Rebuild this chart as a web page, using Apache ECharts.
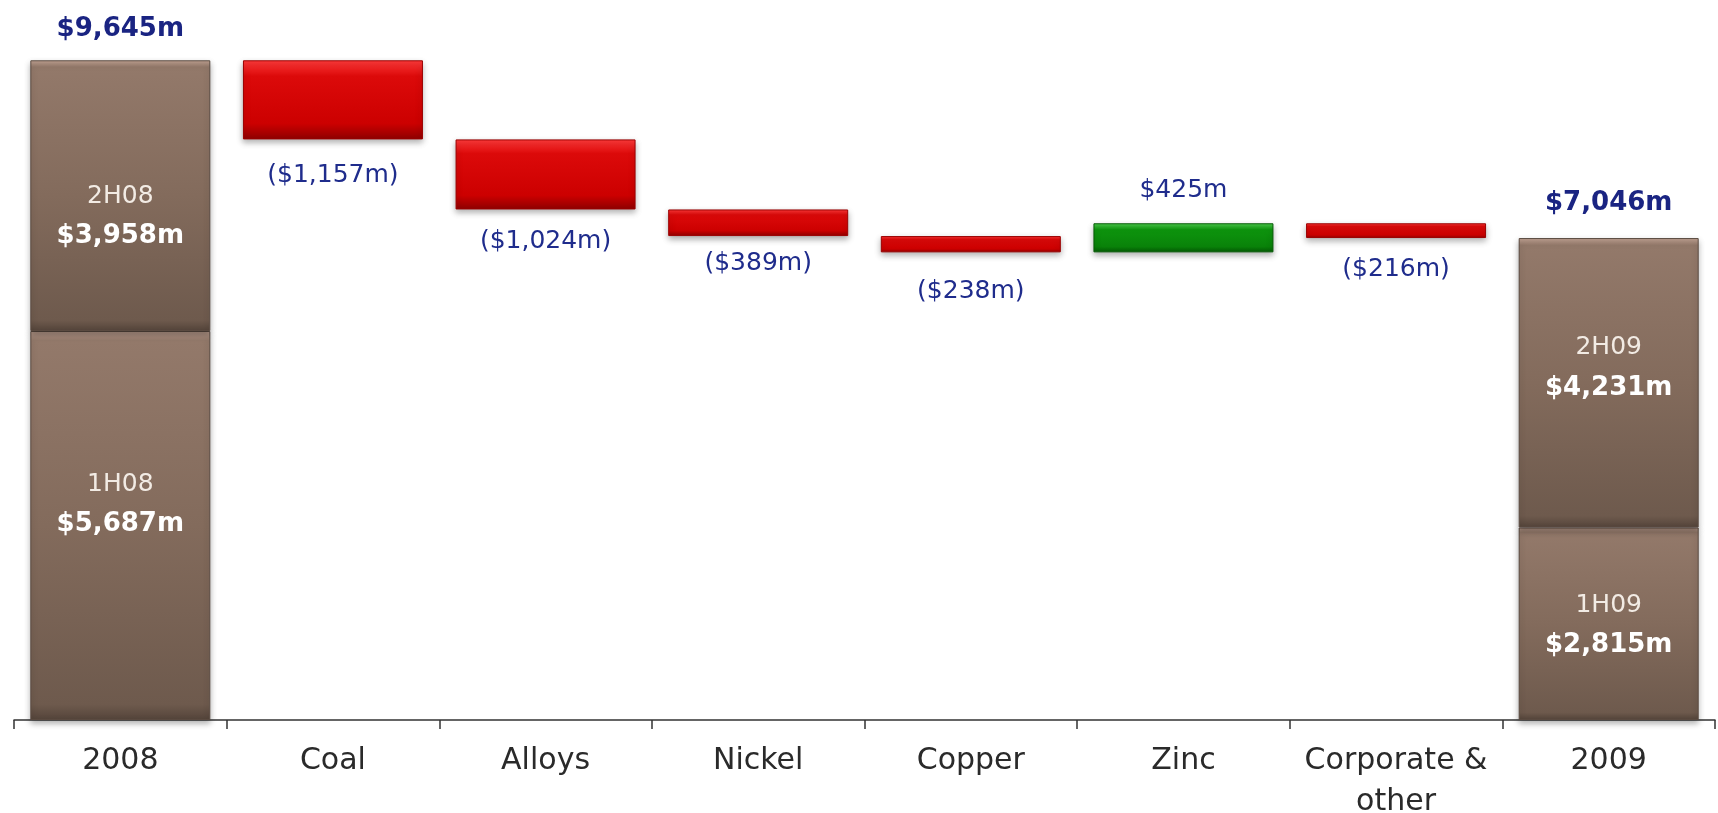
<!DOCTYPE html>
<html>
<head>
<meta charset="utf-8">
<script src="https://cdn.jsdelivr.net/npm/echarts@6/dist/echarts.min.js"></script>
<style>
html,body{margin:0;padding:0;background:#fff;}
#chart{width:1718px;height:813px;}
</style>
</head>
<body>
<div id="chart"></div>
<script>
const categories = ['2008', 'Coal', 'Alloys', 'Nickel', 'Copper', 'Zinc', 'Corporate &\nother', '2009'];
const firstHalf = [5687, null, null, null, null, null, null, 2815];
const secondHalf = [3958, null, null, null, null, null, null, 4231];
const firstHalfNames = ['1H08', '', '', '', '', '', '', '1H09'];
const secondHalfNames = ['2H08', '', '', '', '', '', '', '2H09'];
const changes = [null, -1157, -1024, -389, -238, 425, -216, null];

const fmt = v => v.toLocaleString('en-US');
const FONT = '"DejaVu Sans", Verdana, sans-serif';
const NAVY = '#1f2c8c';

// waterfall bases from running total
let running = (firstHalf[0] || 0) + (secondHalf[0] || 0);
const base = [], dec = [], inc = [], totals = [];
categories.forEach((c, i) => {
  const ch = changes[i];
  if (ch == null) {
    base.push(0); dec.push(null); inc.push(null);
    totals.push(firstHalf[i] != null ? firstHalf[i] + secondHalf[i] : null);
  } else if (ch < 0) {
    base.push(running + ch); dec.push(-ch); inc.push(null); totals.push(null);
    running += ch;
  } else {
    base.push(running); inc.push(ch); dec.push(null); totals.push(null);
    running += ch;
  }
});

const brown = {type:'linear',x:0,y:0,x2:0,y2:1,colorStops:[
  {offset:0,color:'#c3a494'},{offset:0.025,color:'#93796a'},{offset:0.5,color:'#836b5c'},
  {offset:0.96,color:'#6e5a4d'},{offset:1,color:'#54443a'}]};
const red = {type:'linear',x:0,y:0,x2:0,y2:1,colorStops:[
  {offset:0,color:'#ff3a3a'},{offset:0.2,color:'#dc0a0a'},{offset:0.8,color:'#cc0000'},{offset:1,color:'#8e0000'}]};
const green = {type:'linear',x:0,y:0,x2:0,y2:1,colorStops:[
  {offset:0,color:'#4ccc4c'},{offset:0.22,color:'#0e950e'},{offset:0.8,color:'#098209'},{offset:1,color:'#055a05'}]};

const shadow = {shadowBlur:6, shadowColor:'rgba(0,0,0,0.3)', shadowOffsetY:3};

const halfLabel = (names, vals, offsets) => vals.map((v, i) => v == null ? null : {
  value: v,
  label: {show:true, position:'inside', offset:[0, offsets[i]],
    formatter: '{a|' + names[i] + '}\n{b|$' + fmt(v) + 'm}',
    rich: {
      a: {color:'#f2ebe4', fontSize:25, fontFamily:FONT, lineHeight:40},
      b: {color:'#ffffff', fontSize:26, fontWeight:'bold', fontFamily:FONT, lineHeight:40}
    }}
});

const decDistances = [0, 24, 20, 15, 27, 0, 19, 0];
const decData = dec.map((v, i) => v == null ? null : {value: v, label: {distance: decDistances[i]}});
const totalDistances = [18, 0, 0, 0, 0, 0, 0, 22];
const totalData = totals.map((v, i) => v == null ? null : {value: v, label: {distance: totalDistances[i]}});

const option = {
  animation: false,
  backgroundColor: '#ffffff',
  grid: {left:14, right:3, top:36, bottom:93, containLabel:false, outerBoundsMode:'none'},
  xAxis: {
    type:'category', data: categories,
    axisLine:{lineStyle:{color:'#333', width:1.5}},
    axisTick:{show:true, length:9, lineStyle:{color:'#333', width:1.5}},
    axisLabel:{color:'#2a2a2a', fontSize:30, fontFamily:FONT, margin:21, lineHeight:41, interval:0}
  },
  yAxis: {type:'value', min:0, max:10000, show:false, splitLine:{show:false}},
  series: [
    {name:'base', type:'bar', stack:'w', data: base, barWidth:180,
      itemStyle:{color:'transparent'}, silent:true},
    {name:'first', type:'bar', stack:'w', barWidth:180,
      data: halfLabel(firstHalfNames, firstHalf, [-21,0,0,0,0,0,0,2]),
      itemStyle:Object.assign({color:brown, borderColor:'#5a4a40', borderWidth:1}, shadow)},
    {name:'second', type:'bar', stack:'w', barWidth:180,
      data: halfLabel(secondHalfNames, secondHalf, [21,0,0,0,0,0,0,-15]),
      itemStyle:Object.assign({color:brown, borderColor:'#5a4a40', borderWidth:1}, shadow)},
    {name:'decrease', type:'bar', stack:'w', barWidth:180, data: decData,
      itemStyle:Object.assign({color:red, borderColor:'#9a0000', borderWidth:1}, shadow),
      label:{show:true, position:'bottom', distance:15, color:NAVY, fontSize:25, fontFamily:FONT,
        formatter: p => '($' + fmt(p.value) + 'm)'}},
    {name:'increase', type:'bar', stack:'w', barWidth:180, data: inc,
      itemStyle:Object.assign({color:green, borderColor:'#055a05', borderWidth:1}, shadow),
      label:{show:true, position:'top', distance:20, color:NAVY, fontSize:25, fontFamily:FONT,
        formatter: p => '$' + fmt(p.value) + 'm'}},
    {name:'total', type:'scatter', data: totalData, symbolSize:0, silent:true,
      itemStyle:{opacity:1},
      label:{show:true, position:'top', distance:16, color:'#1a2482', fontSize:26, fontWeight:'bold', fontFamily:FONT,
        opacity:1, formatter: p => '$' + fmt(p.value) + 'm'}}
  ]
};

const chart = echarts.init(document.getElementById('chart'), null, {renderer:'canvas'});
chart.setOption(option);
</script>
</body>
</html>
